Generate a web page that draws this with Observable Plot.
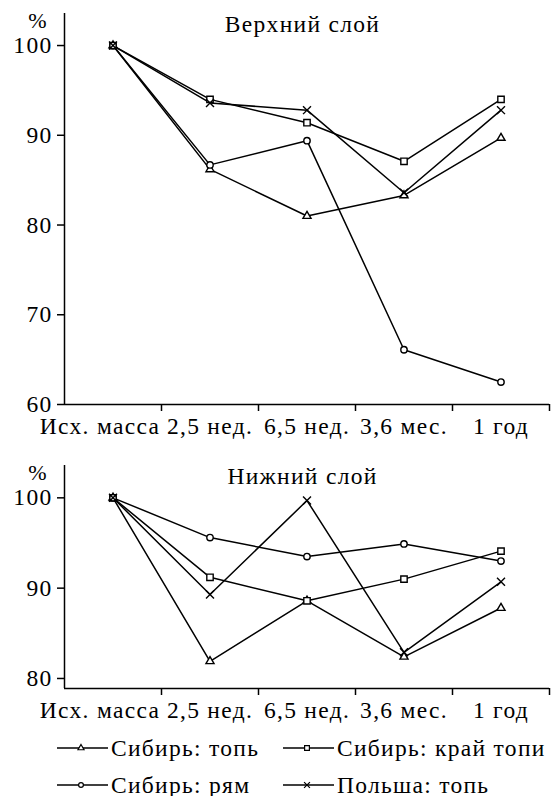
<!DOCTYPE html>
<html><head><meta charset="utf-8">
<script src="https://cdn.jsdelivr.net/npm/d3@7"></script>
<script src="https://cdn.jsdelivr.net/npm/@observablehq/plot@0.6"></script>
<style>
body{margin:0;background:#fff;}
#chart{width:552px;position:relative;background:#fff;}
#chart, #chart svg, #chart svg text, #chart .legend, #chart .legend span{font-family:"Liberation Serif", serif !important;}
#chart svg.plotsvg{display:block;font-size:23.5px;letter-spacing:1.3px;}
.legend{position:relative;height:72px;font-size:23.5px;letter-spacing:1.3px;color:#000;}
.legend .item{position:absolute;display:flex;align-items:center;height:30px;white-space:nowrap;}
.legend .item svg{display:block;}
.legend .item span{margin-left:3px;}
</style></head><body><div id="chart"></div>
<script>
// ---- data ----
const categories = ["Исх. масса", "2,5 нед.", "6,5 нед.", "3,6 мес.", "1 год"];
const seriesNames = ["Сибирь: топь", "Сибирь: край топи", "Сибирь: рям", "Польша: топь"];
const seriesSymbols = ["triangle", "square", "circle", "times"];
const upperTitle = "Верхний слой";
const lowerTitle = "Нижний слой";
const unitLabel = "%";
// upper layer
const upperTop    = [100, 86.2, 81.0, 83.3, 89.7];
const upperEdge   = [100, 94.0, 91.4, 87.1, 94.0];
const upperRyam   = [100, 86.7, 89.4, 66.1, 62.5];
const upperPoland = [100, 93.6, 92.8, 83.6, 92.8];
// lower layer
const lowerTop    = [100, 81.9, 88.6, 82.4, 87.8];
const lowerEdge   = [100, 91.2, 88.6, 91.0, 94.1];
const lowerRyam   = [100, 95.6, 93.5, 94.9, 93.0];
const lowerPoland = [100, 89.3, 99.7, 82.9, 90.7];
const upperTicks = [60, 70, 80, 90, 100];
const lowerTicks = [80, 90, 100];

// ---- style ----
const markerR = {triangle: 3.0, square: 3.6, circle: 3.2, times: 3.7};

function rows(seriesValues) {
  return seriesValues.flatMap((vals, s) => vals.map((v, i) => ({
    series: seriesNames[s], symbol: seriesSymbols[s], pos: i + 0.5, value: v
  })));
}

function panel({values, title, domain, ticks, height, marginTop, marginBottom}) {
  const data = rows(values);
  const fmt = d => categories[Math.floor(d)];
  const n = categories.length;
  return Plot.plot({
    width: 552, height, marginTop, marginBottom, marginLeft: 64, marginRight: 3,
    style: {fontFamily: "Liberation Serif", background: "white", color: "black", overflow: "visible"},
    x: {domain: [0, n], label: null},
    y: {domain, label: null},
    marks: [
      Plot.axisY({ticks, tickSize: 7, tickPadding: 5, strokeWidth: 1.5, label: null, tickFormat: d => String(d)}),
      Plot.axisX({ticks: d3.range(1, n + 1), tickSize: 7, strokeWidth: 1.5, tickFormat: () => "", label: null}),
      Plot.axisX({ticks: [0.5], tickSize: 0, tickPadding: 12.7, tickFormat: fmt, dx: -13, label: null}),
      Plot.axisX({ticks: d3.range(1, n).map(i => i + 0.5), tickSize: 0, tickPadding: 12.7, tickFormat: fmt, label: null}),
      Plot.ruleX([0], {strokeWidth: 1.5}),
      Plot.ruleY([domain[0]], {strokeWidth: 1.5}),
      Plot.line(data, {x: "pos", y: "value", z: "series", stroke: "black", strokeWidth: 1.5}),
      ...seriesSymbols.map(sym => Plot.dot(data.filter(d => d.symbol === sym), {
        x: "pos", y: "value", symbol: sym, r: markerR[sym], fill: "white", stroke: "black", strokeWidth: 1.4
      })),
      Plot.text([title], {frameAnchor: "top", lineAnchor: "top", dx: -4.5, dy: 2, fill: "black"}),
      Plot.text([unitLabel], {frameAnchor: "top-left", lineAnchor: "top", textAnchor: "middle", dx: -26.5, dy: -1, fill: "black", fontSize: 22})
    ]
  });
}

const chartEl = document.getElementById("chart");
const upperSvg = panel({
  values: [upperTop, upperEdge, upperRyam, upperPoland],
  title: upperTitle, domain: [60, 103.57], ticks: upperTicks, height: 440, marginTop: 13, marginBottom: 36
});
upperSvg.classList.add("plotsvg");
chartEl.appendChild(upperSvg);
const lowerSvg = panel({
  values: [lowerTop, lowerEdge, lowerRyam, lowerPoland],
  title: lowerTitle, domain: [78.89, 103.58], ticks: lowerTicks, height: 284, marginTop: 25, marginBottom: 36
});
lowerSvg.classList.add("plotsvg");
chartEl.appendChild(lowerSvg);

// ---- legend ----
const legendCols = [57, 283];
const legendRows = [9, 46];
const symbolFns = {triangle: d3.symbolTriangle, square: d3.symbolSquare, circle: d3.symbolCircle, times: d3.symbolTimes};
const legend = d3.select(chartEl).append("div").attr("class", "legend");
seriesNames.forEach((name, i) => {
  const sym = seriesSymbols[i];
  const item = legend.append("div").attr("class", "item")
    .style("left", legendCols[i % 2] + "px")
    .style("top", legendRows[Math.floor(i / 2)] + "px");
  const svg = item.append("svg").attr("width", 51).attr("height", 14);
  svg.append("line").attr("x1", 0).attr("x2", 51).attr("y1", 7).attr("y2", 7)
    .attr("stroke", "black").attr("stroke-width", 1.4);
  const rr = markerR[sym] * 0.75;
  svg.append("path").attr("transform", "translate(24,7)")
    .attr("d", d3.symbol(symbolFns[sym], Math.PI * rr * rr)())
    .attr("fill", "white").attr("stroke", "black").attr("stroke-width", 1.2);
  item.append("span").text(name);
});
</script>
</body></html>
